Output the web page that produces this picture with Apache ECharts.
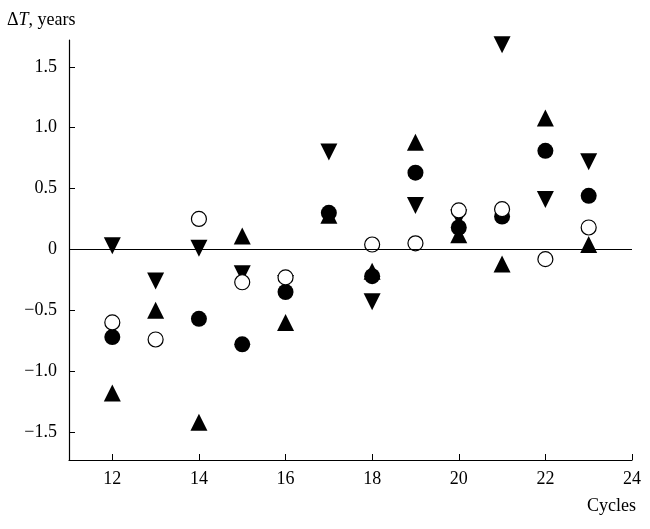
<!DOCTYPE html>
<html><head><meta charset="utf-8">
<script src="https://cdn.jsdelivr.net/npm/echarts@6/dist/echarts.min.js"></script>
<style>body{margin:0}#chartmain{width:650px;height:529px}</style>
</head><body>
<div id="chartmain"></div>
<script>
var cycles = [12, 13, 14, 15, 16, 17, 18, 19, 20, 21, 22, 23];
var filledCircle = [-0.72, null, -0.57, -0.78, -0.35, 0.30, -0.22, 0.63, 0.18, 0.27, 0.81, 0.44];
var openCircle = [-0.60, -0.74, 0.25, -0.27, -0.23, null, 0.04, 0.05, 0.32, 0.33, -0.08, 0.18];
var upTriangle = [-1.18, -0.50, -1.42, 0.11, -0.60, 0.28, -0.18, 0.88, 0.12, -0.12, 1.08, 0.04];
var downTriangle = [0.03, -0.26, 0.01, -0.20, -0.28, 0.80, -0.43, 0.36, 0.26, 1.68, 0.41, 0.72];
var xTicks = [12, 14, 16, 18, 20, 22, 24];
var yTicks = [-1.5, -1.0, -0.5, 0, 0.5, 1.0, 1.5];

function pairs(vals) {
    var out = [];
    for (var i = 0; i < cycles.length; i++) {
        if (vals[i] !== null) out.push([cycles[i], vals[i]]);
    }
    return out;
}
var font = '"Liberation Serif", "DejaVu Serif", serif';
var myChart = echarts.init(document.getElementById("chartmain"));
var option = {
    animation: false,
    textStyle: {fontFamily: font},
    grid: {left: 69, right: 18, top: 40, bottom: 69},
    title: {
        text: '{a|Δ}{b|T}{a|, years}',
        left: 2, top: 6,
        textStyle: {fontWeight: 'normal', rich: {
            a: {fontFamily: font, fontSize: 18, fontWeight: 'normal', color: '#000'},
            b: {fontFamily: font, fontSize: 18, fontWeight: 'normal', fontStyle: 'italic', color: '#000'}
        }}
    },
    graphic: [{type: 'text', right: 14, top: 497,
        style: {text: 'Cycles', font: '18px ' + font, fill: '#000'}}],
    xAxis: {
        type: 'value', min: 11, max: 24,
        axisLine: {onZero: false, lineStyle: {color: '#000', width: 1.2}},
        axisTick: {customValues: xTicks, inside: true, length: 6, lineStyle: {color: '#000'}},
        axisLabel: {customValues: xTicks, color: '#000', fontSize: 18, fontFamily: font, margin: 10},
        splitLine: {show: false}
    },
    yAxis: {
        type: 'value', min: -1.73, max: 1.72,
        axisLine: {show: true, lineStyle: {color: '#000', width: 1.2}},
        axisTick: {show: true, customValues: yTicks, inside: true, length: 6, lineStyle: {color: '#000'}},
        axisLabel: {customValues: yTicks, color: '#000', fontSize: 18, fontFamily: font, margin: 12,
            formatter: function (v) {
                if (v === 0) return '0';
                return (v < 0 ? '\u2212' : '') + Math.abs(v).toFixed(1);
            }},
        splitLine: {show: false}
    },
    series: [
        {type: 'scatter', data: pairs(upTriangle), symbol: 'triangle', symbolSize: 17,
            itemStyle: {color: '#000', opacity: 1},
            markLine: {silent: true, symbol: 'none', label: {show: false},
                lineStyle: {color: '#000', type: 'solid', width: 1.2}, data: [{yAxis: 0}]}},
        {type: 'scatter', data: pairs(downTriangle), symbol: 'triangle', symbolRotate: 180, symbolSize: 17,
            itemStyle: {color: '#000', opacity: 1}},
        {type: 'scatter', data: pairs(filledCircle), symbol: 'circle', symbolSize: 16,
            itemStyle: {color: '#000', opacity: 1}},
        {type: 'scatter', data: pairs(openCircle), symbol: 'circle', symbolSize: 15,
            itemStyle: {color: '#fff', borderColor: '#000', borderWidth: 1.2, opacity: 1}}
    ]
};
myChart.setOption(option);
</script>
</body></html>
